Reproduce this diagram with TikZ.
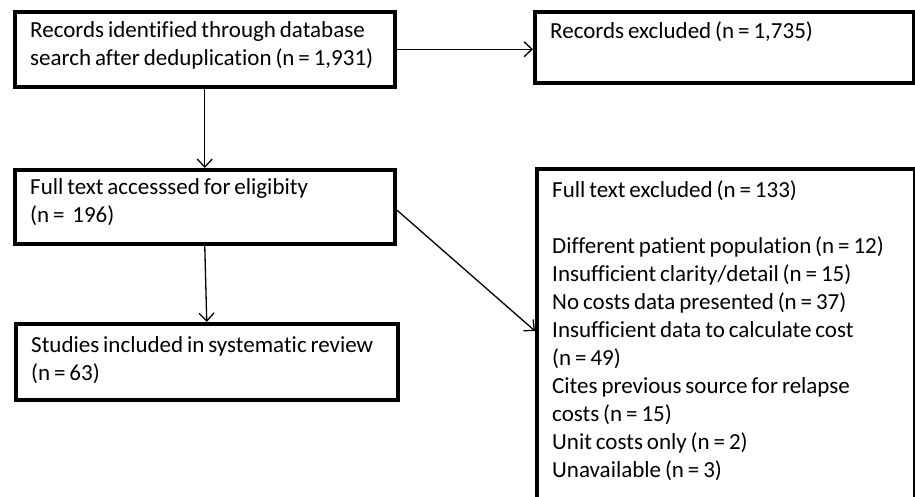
\documentclass[tikz,border=0pt]{standalone}
\usepackage{fontspec}
\setmainfont{Carlito}[Ligatures=NoCommon]
\usetikzlibrary{arrows.meta,calc}
\newcommand{\reffont}{\fontsize{23}{28}\selectfont\spaceskip=0.17em plus 0.05em minus 0.02em\relax}
\begin{document}
\begin{tikzpicture}[x=1pt,y=-1pt,
  box/.style={draw=black,line width=3.5pt,rectangle,inner sep=0pt,anchor=north west,fill=white},
  txt/.style={anchor=base west,inner sep=0pt,align=left,font=\reffont},
  arr/.style={line width=1.3pt,-{Straight Barb[length=8pt,width=15pt,line width=1.3pt]}}]
\clip (0,0) rectangle (915,496);
\fill[white] (0,0) rectangle (915,496);
\node[box,minimum width=380pt,minimum height=75pt] (b1) at (13,10) {};
\node[box,minimum width=379pt,minimum height=71pt] (b2) at (533,10) {};
\node[box,minimum width=380pt,minimum height=74pt] (b3) at (13,168) {};
\node[box,minimum width=382pt,minimum height=76pt] (b4) at (14,322) {};
\node[box,minimum width=378pt,minimum height=360pt] (b5) at (535,167) {};
\node[txt] (t1) at (30,65) {Records identified through database\\search after deduplication (n = 1,931)};
\node[txt] (t2) at (550,38) {Records excluded (n = 1,735)};
\node[txt] (t3) at (30,222) {Full text accesssed for eligibity\\(n =\ \ 196)};
\node[txt] (t4) at (31,380) {Studies included in systematic review\\(n = 63)};
\node[txt] (t5) at (552,477) {Full text excluded (n = 133)\\[28pt]Different patient population (n = 12)\\Insufficient clarity/detail (n = 15)\\No costs data presented (n = 37)\\Insufficient data to calculate cost\\(n = 49)\\Cites previous source for relapse\\costs (n = 15)\\Unit costs only (n = 2)\\Unavailable (n = 3)};
\draw[arr] (b1.east) -- (b2.west |- b1.east);
\draw[arr] (b1.south) -- (b3.north);
\draw[arr] (b3.south) -- (b4.north);
\coordinate (e5) at ([yshift=-164pt]b5.north west);
\draw[arr] ([yshift=-3pt]b3.east) -- (e5);
\end{tikzpicture}
\end{document}
